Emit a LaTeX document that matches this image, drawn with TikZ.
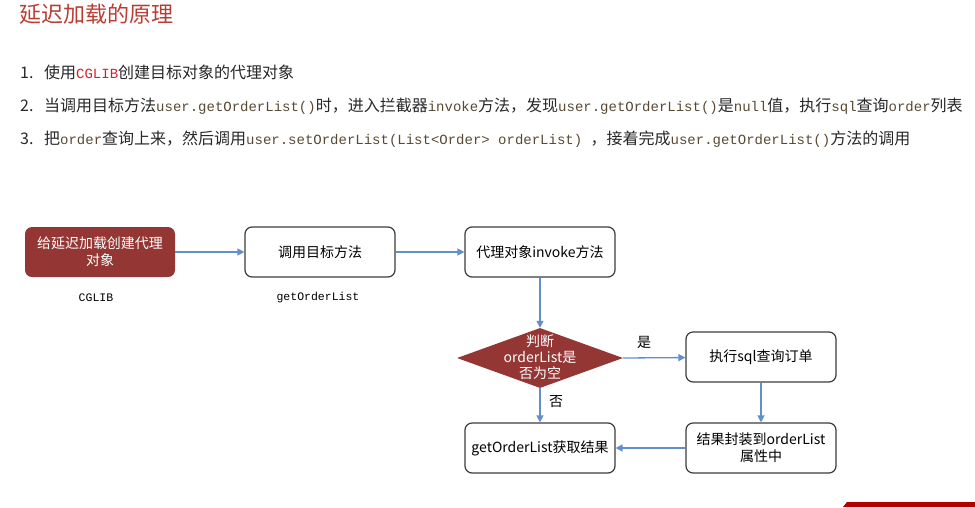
\documentclass[tikz,border=0pt]{standalone}
\usepackage{fontspec}
\setmainfont{Noto Sans CJK SC}
\newfontfamily\mycodefont{Liberation Mono}
\usetikzlibrary{arrows.meta,shapes.geometric}
\definecolor{boxred}{RGB}{148,54,52}
\definecolor{titlecol}{RGB}{184,62,52}
\definecolor{codecol}{RGB}{88,72,52}
\definecolor{codered}{RGB}{214,30,40}
\definecolor{txtcol}{RGB}{40,40,40}
\definecolor{arrcol}{RGB}{98,143,204}
\definecolor{bordercol}{RGB}{60,60,60}
\definecolor{bannerred}{RGB}{176,0,0}
\newcommand{\mycode}[1]{{\mycodefont\fontsize{14}{16}\selectfont\color{codecol}#1}}
\newcommand{\mycodered}[1]{{\mycodefont\fontsize{14}{16}\selectfont\color{codered}#1}}
\tikzset{
  titletext/.style={inner sep=0pt, text=titlecol, font=\fontsize{22}{26}\selectfont},
  listtext/.style={inner sep=0pt, text=txtcol, font=\fontsize{16}{20}\selectfont},
  basebox/.style={rectangle, rounded corners=7pt, minimum width=150pt, minimum height=50pt, align=center, inner sep=2pt, font=\fontsize{14}{17}\selectfont},
  redbox/.style={basebox, fill=boxred, text=white},
  whitebox/.style={basebox, draw=bordercol, line width=1.2pt, fill=white, text=black},
  codelabel/.style={inner sep=0pt, text=black, font=\mycodefont\fontsize{11.5}{14}\selectfont},
  edgelabel/.style={inner sep=0pt, text=black, font=\fontsize{14}{17}\selectfont},
  arr/.style={draw=arrcol, line width=1.3pt, -{Triangle[length=7pt,width=7pt]}}
}
\begin{document}
\begin{tikzpicture}[x=1pt,y=-1pt]
\useasboundingbox (0,0) rectangle (975,507);
\node[titletext, anchor=base west] (title) at (19,22) {延迟加载的原理};

\node[listtext, anchor=base west] (n1) at (20,78) {1.};
\node[listtext, anchor=base west] (l1) at (44,78) {使用\mycodered{CGLIB}创建目标对象的代理对象};
\node[listtext, anchor=base west] (n2) at (20,111) {2.};
\node[listtext, anchor=base west] (l2) at (44,111) {当调用目标方法\mycode{user.getOrderList()}时，进入拦截器\mycode{invoke}方法，发现\mycode{user.getOrderList()}是\mycode{null}值，执行\mycode{sql}查询\mycode{order}列表};
\node[listtext, anchor=base west] (n3) at (20,144) {3.};
\node[listtext, anchor=base west] (l3) at (44,144) {把\mycode{order}查询上来，然后调用\mycode{user.setOrderList(List<Order> orderList) }，接着完成\mycode{user.getOrderList()}方法的调用};

\node[redbox] (b1) at (100,252) {给延迟加载创建代理\\对象};
\node[whitebox] (b2) at (320,252) {调用目标方法};
\node[whitebox] (b3) at (540,252) {代理对象invoke方法};
\node[diamond, fill=boxred, minimum width=166pt, minimum height=60pt, inner sep=0pt] (d) at (540,358) {};
\node[inner sep=0pt, text=white, align=center, font=\fontsize{14}{16}\selectfont] (dt) at (540,357) {判断\\orderList是\\否为空};
\node[whitebox] (b4) at (761,357) {执行sql查询订单};
\node[whitebox] (b5) at (761,448) {结果封装到orderList\\属性中};
\node[whitebox] (b6) at (540,448) {getOrderList获取结果};

\node[codelabel] (c1) at (96,298) {CGLIB};
\node[codelabel] (c2) at (318,298) {getOrderList};
\node[edgelabel] (yes) at (644,342) {是};
\node[edgelabel] (no) at (556,402) {否};

\draw[arr] (b1) -- (b2);
\draw[arr] (b2) -- (b3);
\draw[arr] (b3) -- (d.north);
\draw[arr] (d.east) -- (b4);
\draw[arr] (b4) -- (b5);
\draw[arr] (b5) -- (b6);
\draw[arr] (d.south) -- (b6);

\fill[bannerred] (843,507) -- (847,502) -- (975,502) -- (975,507) -- cycle;
\end{tikzpicture}
\end{document}
